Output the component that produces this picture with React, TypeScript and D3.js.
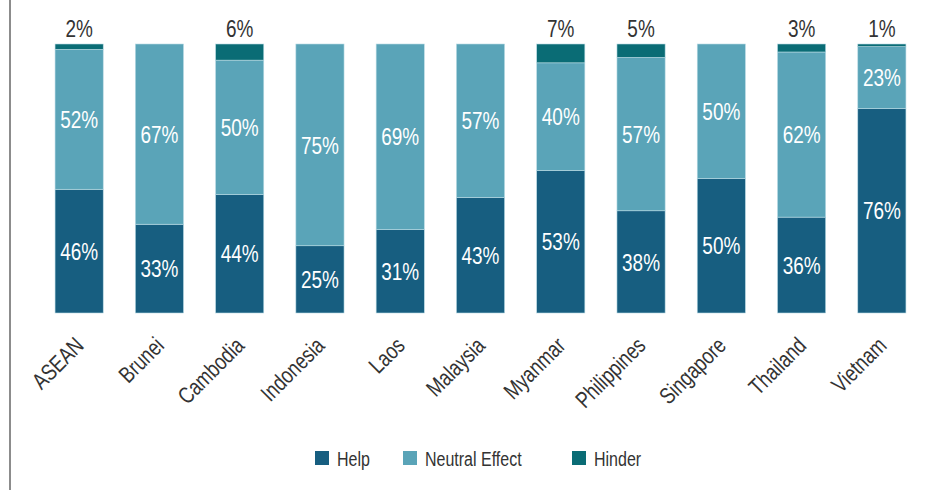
import React from "react";
import * as d3 from "d3";

const categories = ["ASEAN", "Brunei", "Cambodia", "Indonesia", "Laos", "Malaysia", "Myanmar", "Philippines", "Singapore", "Thailand", "Vietnam"];
const help = [46, 33, 44, 25, 31, 43, 53, 38, 50, 36, 76];
const neutral = [52, 67, 50, 75, 69, 57, 40, 57, 50, 62, 23];
const hinder = [2, 0, 6, 0, 0, 0, 7, 5, 0, 3, 1];
const seriesNames = ["Help", "Neutral Effect", "Hinder"];

const colors = ["#175e80", "#5aa4b8", "#0a6c75"];
const W = 941, H = 490;
const FONT = "'Liberation Sans', Arial, sans-serif";
const SX = 0.79;

export default function App() {
  const rows = categories.map((c, i) => ({ cat: c, help: help[i], neutral: neutral[i], hinder: hinder[i] }));
  const stack = d3.stack<any>().keys(["help", "neutral", "hinder"]).offset(d3.stackOffsetExpand);
  const layers = stack(rows);
  const x = d3.scaleBand().domain(categories).range([39, 922]).paddingInner(0.4).paddingOuter(0.2);
  const y = d3.scaleLinear().domain([0, 1]).range([313, 44]);
  const vals = [help, neutral, hinder];
  const legendX = [315, 403, 572];

  return (
    <svg width={W} height={H} style={{ position: "absolute", left: 0, top: 0, fontFamily: FONT }}>
      <rect x={0} y={0} width={W} height={H} fill="#fff" />
      <line x1={10} x2={10} y1={0} y2={H} stroke="#666" strokeWidth={1.5} />
      {layers.map((layer, li) => (
        <g key={li}>
          {layer.map((d, i) => {
            const v = vals[li][i];
            if (v === 0) return null;
            const y0 = y(d[0]), y1 = y(d[1]);
            const bx = x(categories[i])!;
            const cx = bx + x.bandwidth() / 2;
            return (
              <g key={i}>
                <rect x={bx} y={y1} width={x.bandwidth()} height={y0 - y1} fill={colors[li]} stroke="#b9dbe4" strokeWidth={0.6} />
                {li < 2 ? (
                  <text transform={`translate(${cx},${(y0 + y1) / 2}) scale(${SX},1)`} dy="0.36em" textAnchor="middle" fill="#fff" fontSize={24}>
                    {v}%
                  </text>
                ) : (
                  <text transform={`translate(${cx},${y1 - 7}) scale(${SX},1)`} textAnchor="middle" fill="#333" fontSize={24}>
                    {v}%
                  </text>
                )}
              </g>
            );
          })}
        </g>
      ))}
      {categories.map((c) => {
        const cx = x(c)! + x.bandwidth() / 2 + 6;
        return (
          <text key={c} transform={`translate(${cx},${347}) rotate(-45) scale(${SX},1)`} textAnchor="end" fill="#333" fontSize={23}>
            {c}
          </text>
        );
      })}
      {seriesNames.map((s, i) => (
        <g key={s}>
          <rect x={legendX[i]} y={451} width={14} height={14} fill={colors[i]} />
          <text transform={`translate(${legendX[i] + 22},${466}) scale(0.8,1)`} fill="#333" fontSize={20}>{s}</text>
        </g>
      ))}
    </svg>
  );
}
